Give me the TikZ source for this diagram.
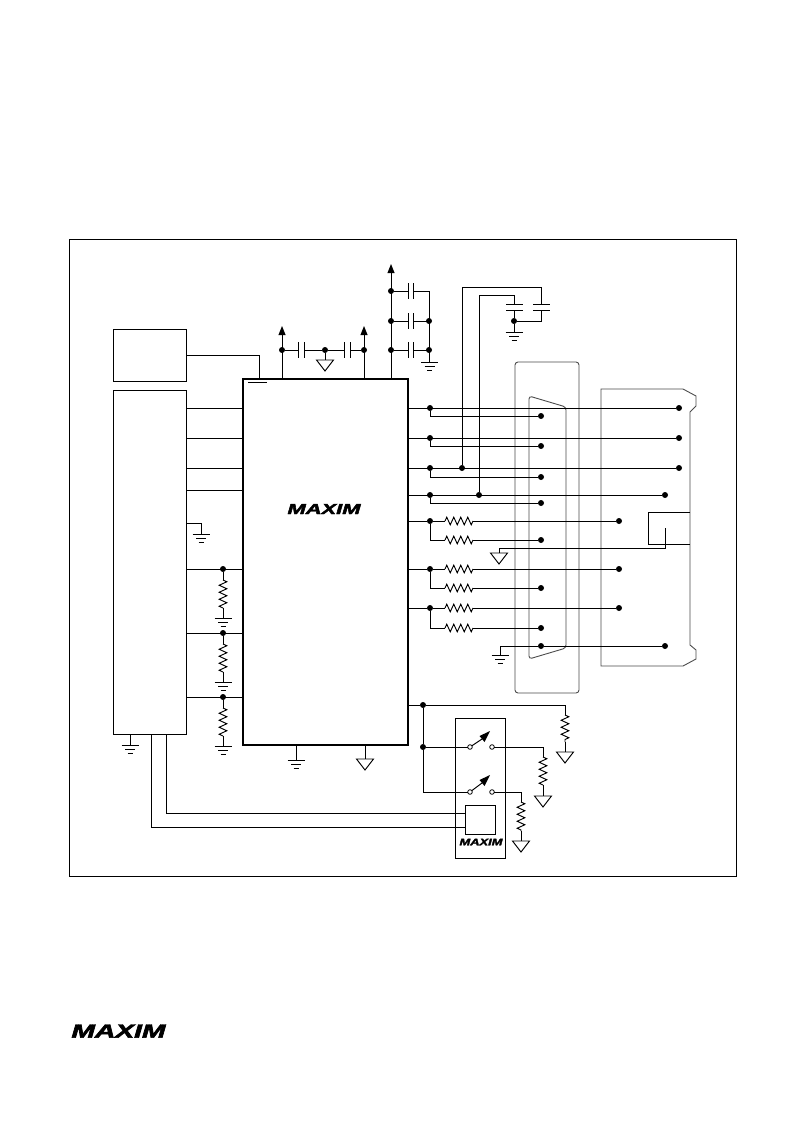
\documentclass[tikz,border=0pt]{standalone}
\usepackage{fontspec}
\usepackage{graphicx}
\usetikzlibrary{decorations.pathmorphing,calc}
\setmainfont{Liberation Sans}
\newfontfamily\logofont[BoldItalicFeatures={FakeBold=2.5}]{Liberation Sans}
\tikzset{
  wire/.style={line width=0.95pt,line join=miter},
  box/.style={draw,line width=0.95pt,rectangle,inner sep=0,outer sep=0,anchor=north west},
  dot/.style={circle,fill=black,inner sep=0,minimum size=6pt,outer sep=0},
  ring/.style={circle,draw,fill=white,line width=0.8pt,inner sep=0,minimum size=4.6pt,outer sep=0},
  res/.style={decorate,decoration={zigzag,segment length=7pt,amplitude=3.8pt}},
  shell/.style={line width=0.9pt,draw=black!70},
  gnd/.pic={\draw[wire] (-8.5,0)--(8.5,0) (-5,4)--(5,4) (-2.5,8)--(2.5,8);},
  sgnd/.pic={\draw[wire,fill=white] (-8.5,0)--(8.5,0)--(0,11)--cycle;},
  supply/.pic={\fill (0,0)--(-3.6,-9)--(3.6,-9)--cycle;}
}
\newcommand{\maximlogo}[2]{\resizebox{#1pt}{#2pt}{\logofont\bfseries\itshape MAXIM}}
\begin{document}
\begin{tikzpicture}[x=1pt,y=-1pt,every path/.append style={wire}]
\useasboundingbox (0,0) rectangle (793,1123);
\fill[white] (0,0) rectangle (793,1123);
% frame and blocks
\node[box,minimum width=667pt,minimum height=637pt] (frame) at (69,239) {};
\node[box,minimum width=73pt,minimum height=52pt] (ref) at (113,329) {};
\node[box,minimum width=73pt,minimum height=344pt] (mcu) at (113,390) {};
\node[box,line width=2pt,minimum width=165pt,minimum height=366pt] (ic) at (243,379) {};
\node[box,minimum width=50pt,minimum height=140pt] (swbox) at (455,718) {};
\node[box,minimum width=30pt,minimum height=29pt] (ctl) at (465,805) {};
\node (logoA) at (324,509) {\maximlogo{73}{10}};
\node (logoB) at (481,842) {\maximlogo{43}{6.5}};
\node (logoC) at (118.5,1031) {\maximlogo{94}{13}};
% reference to IC
\draw (ref.east |- 0,355) -- (259,355) -- (259,379);
\draw (248,382.5) -- (267,382.5);
% supply and decoupling
\node[dot] (a1) at (282,350) {};
\node[dot] (a2) at (325,350) {};
\node[dot] (a3) at (364,350) {};
\draw (282,379) -- (282,335);
\pic at (282,326) [yscale=-1] {supply};
\draw (364,379) -- (364,335);
\pic at (364,326) [yscale=-1] {supply};
\draw (a1) -- (298,350) (298,342) -- (298,358) (304,342) -- (304,358) (304,350) -- (a2);
\draw (a2) -- (344,350) (344,342) -- (344,358) (350,342) -- (350,358) (350,350) -- (a3);
\draw (a2) -- (325,360);
\pic at (325,360) {sgnd};
\node[dot] (b1) at (391,291) {};
\node[dot] (b2) at (391,321) {};
\node[dot] (b3) at (391,350) {};
\node[dot] (c2) at (429,321) {};
\node[dot] (c3) at (429,350) {};
\draw (391,379) -- (391,273);
\pic at (391,264) [yscale=-1] {supply};
\foreach \n/\m/\yy in {b1/c1/291,b2/c2/321,b3/c3/350}{
  \draw (\n) -- (408,\yy) (408,\yy-8) -- (408,\yy+8) (413,\yy-8) -- (413,\yy+8) (413,\yy) -- (429,\yy);
}
\draw (429,291) -- (429,362);
\pic at (429.5,362) {gnd};
% charge-pump capacitors
\node[dot] (d1) at (462,468) {};
\node[dot] (d2) at (479,495) {};
\node[dot] (e) at (514,321) {};
\draw (d1) -- (462,287) -- (541,287) -- (541,304) (533,304) -- (550,304) (533,310) -- (550,310) (541,310) -- (541,321) -- (e);
\draw (d2) -- (479,295) -- (514,295) -- (514,304) (506,304) -- (523,304) (506,310) -- (523,310) (514,310) -- (e);
\draw (e) -- (514,332);
\pic at (514,332) {gnd};
% connector shells
\draw[shell,rounded corners=3pt] (515,362) rectangle (579,693);
\draw[shell,rounded corners=3pt] (529,659) -- (529,396) -- (566,407) -- (566,648) -- cycle;
\draw[shell] (601,389) -- (683,389) -- (696,396) -- (696,406) -- (690,412) -- (690,645) -- (696,650) -- (696,659) -- (683,666) -- (601,666) -- cycle;
% pull-ups etc on the left
\draw (mcu.east |- 0,408) -- (ic.west |- 0,408);
\draw (mcu.east |- 0,438) -- (ic.west |- 0,438);
\draw (mcu.east |- 0,468) -- (ic.west |- 0,468);
\draw (mcu.east |- 0,490) -- (ic.west |- 0,490);
\draw (mcu.east |- 0,523) -- (201,523) -- (201,534);
\pic at (201,534) {gnd};
\foreach \yy/\n in {569/p1,633/p2,697/p3}{
  \node[dot] (\n) at (223,\yy) {};
  \draw (mcu.east |- 0,\yy) -- (ic.west |- 0,\yy);
  \draw (\n) -- (223,\yy+11);
  \draw[res] (223,\yy+11) -- (223,\yy+39);
  \draw (223,\yy+39) -- (223,\yy+49);
  \pic at (223,\yy+49) {gnd};
}
\draw (130,734) -- (130,745);
\pic at (130,745) {gnd};
\draw (296,745) -- (296,760);
\pic at (296,760) {gnd};
\draw (365,745) -- (365,759);
\pic at (365,759) {sgnd};
% driver rows to both connectors
\foreach \yy/\x/\yb/\n in {408/679/416/r1,438/679/446/r2,468/679/477/r3,495/665/503/r4}{
  \node[dot] (\n a) at (430,\yy) {};
  \node[dot] (\n b) at (541,\yb) {};
  \node[dot] (\n c) at (\x,\yy) {};
  \draw (ic.east |- 0,\yy) -- (\n c);
  \draw (\n a) -- (430,\yb) -- (\n b);
}
\foreach \yy/\yb/\n in {521/540/s1,569/588/s2,608/628/s3}{
  \node[dot] (\n a) at (430,\yy) {};
  \node[dot] (\n b) at (541,\yb) {};
  \node[dot] (\n c) at (619,\yy) {};
  \draw (ic.east |- 0,\yy) -- (\n a) -- (445,\yy);
  \draw[res] (445,\yy) -- (473,\yy);
  \draw (473,\yy) -- (\n c);
  \draw (\n a) -- (430,\yb) -- (445,\yb);
  \draw[res] (445,\yb) -- (473,\yb);
  \draw (473,\yb) -- (\n b);
}
% right connector loop
\draw (690,512) -- (648,512) -- (648,544) -- (690,544);
\draw (665,528) -- (665,548) -- (499,548) -- (499,553);
\pic at (499,553) {sgnd};
% shield ground
\node[dot] (g1) at (541,646) {};
\node[dot] (g2) at (665,646) {};
\draw (g2) -- (g1) -- (500,646) -- (500,655);
\pic at (500,655) {gnd};
% switches
\node[dot] (h1) at (423,705) {};
\node[dot] (h2) at (423,747) {};
\node[ring] (sa1) at (470,747) {};
\node[ring] (sa2) at (492,747) {};
\node[ring] (sb1) at (470,792) {};
\node[ring] (sb2) at (492,792) {};
\draw (ic.east |- 0,705) -- (h1) -- (565,705) -- (565,715);
\draw[res] (565,715) -- (565,742);
\draw (565,742) -- (565,752);
\pic at (565,752) {sgnd};
\draw (h1) -- (h2) -- (sa1);
\draw (h2) -- (423,792) -- (sb1);
\draw (sa2) -- (543,747) -- (543,757);
\draw[res] (543,757) -- (543,785);
\draw (543,785) -- (543,796);
\pic at (543,796) {sgnd};
\draw (sb2) -- (521,792) -- (521,802);
\draw[res] (521,802) -- (521,831);
\draw (521,831) -- (521,841);
\pic at (521,841) {sgnd};
\draw (sa1) -- (482,739);
\fill (490,731) -- (479.5,736) -- (484.5,742) -- cycle;
\draw (sb1) -- (482,783);
\fill (490,775) -- (479.5,780) -- (484.5,786) -- cycle;
% control lines
\draw (166,734) -- (166,813) -- (ctl.west |- 0,813);
\draw (151,734) -- (151,827) -- (ctl.west |- 0,827);
\end{tikzpicture}
\end{document}
